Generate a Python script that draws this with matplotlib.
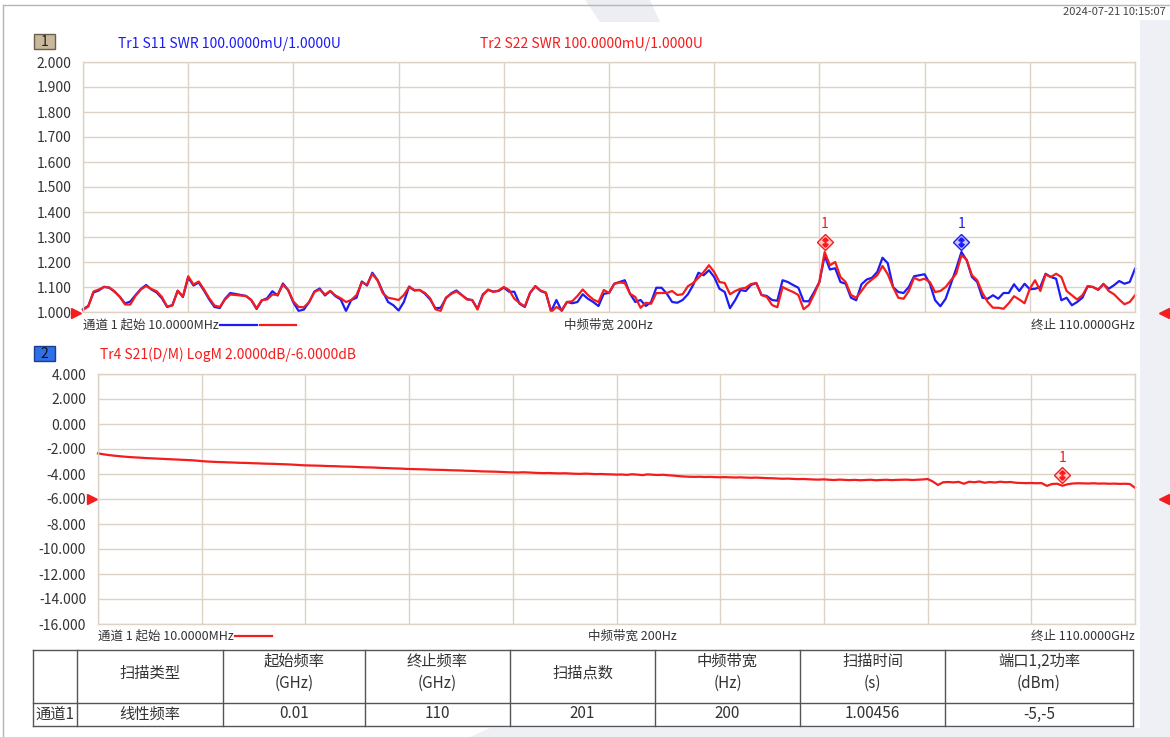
import numpy as np
import matplotlib
matplotlib.use('Agg')
import matplotlib.pyplot as plt
import matplotlib.transforms as mtransforms
from matplotlib.patches import Rectangle, Polygon

plt.rcParams['font.family'] = ['Noto Sans CJK SC', 'DejaVu Sans']

# ---------------- data ----------------
start_ghz = 0.01
stop_ghz = 110.0
n_points = 201

s11_swr = [
    1.011, 1.024, 1.078, 1.086, 1.101, 1.097, 1.081, 1.061, 1.034, 1.042,
    1.068, 1.092, 1.108, 1.090, 1.078, 1.055, 1.020, 1.028, 1.085, 1.060,
    1.138, 1.106, 1.118, 1.086, 1.050, 1.020, 1.016, 1.053, 1.076, 1.072,
    1.068, 1.064, 1.047, 1.012, 1.046, 1.055, 1.083, 1.066, 1.114, 1.088,
    1.038, 1.004, 1.010, 1.040, 1.082, 1.094, 1.066, 1.084, 1.063, 1.050,
    1.004, 1.048, 1.057, 1.122, 1.106, 1.157, 1.128, 1.081, 1.040, 1.027,
    1.006, 1.040, 1.102, 1.086, 1.088, 1.073, 1.050, 1.015, 1.017, 1.055,
    1.075, 1.086, 1.068, 1.052, 1.047, 1.013, 1.070, 1.088, 1.082, 1.084,
    1.098, 1.081, 1.081, 1.033, 1.020, 1.076, 1.104, 1.084, 1.076, 1.003,
    1.048, 1.004, 1.040, 1.035, 1.040, 1.071, 1.053, 1.040, 1.024, 1.073,
    1.076, 1.113, 1.120, 1.127, 1.073, 1.040, 1.048, 1.024, 1.040, 1.097,
    1.097, 1.073, 1.040, 1.037, 1.048, 1.071, 1.108, 1.157, 1.147, 1.167,
    1.140, 1.093, 1.080, 1.015, 1.048, 1.088, 1.084, 1.108, 1.116, 1.068,
    1.064, 1.048, 1.045, 1.127, 1.120, 1.108, 1.097, 1.043, 1.043, 1.080,
    1.120, 1.225, 1.170, 1.175, 1.120, 1.113, 1.057, 1.047, 1.111, 1.130,
    1.137, 1.160, 1.217, 1.195, 1.100, 1.080, 1.076, 1.100, 1.143, 1.147,
    1.151, 1.113, 1.047, 1.023, 1.053, 1.113, 1.173, 1.240, 1.207, 1.140,
    1.120, 1.057, 1.053, 1.067, 1.053, 1.076, 1.076, 1.111, 1.084, 1.113,
    1.091, 1.093, 1.100, 1.153, 1.140, 1.133, 1.047, 1.057, 1.027, 1.040,
    1.057, 1.103, 1.100, 1.089, 1.111, 1.093, 1.107, 1.124, 1.113, 1.120,
    1.173,
]

s22_swr = [
    1.008, 1.022, 1.082, 1.090, 1.100, 1.098, 1.083, 1.060, 1.030, 1.030,
    1.065, 1.090, 1.104, 1.092, 1.083, 1.060, 1.022, 1.026, 1.085, 1.062,
    1.143, 1.110, 1.122, 1.090, 1.055, 1.026, 1.020, 1.050, 1.070, 1.068,
    1.066, 1.064, 1.048, 1.015, 1.048, 1.050, 1.070, 1.068, 1.110, 1.088,
    1.042, 1.020, 1.019, 1.040, 1.080, 1.090, 1.070, 1.084, 1.066, 1.055,
    1.040, 1.048, 1.068, 1.118, 1.110, 1.152, 1.126, 1.075, 1.057, 1.053,
    1.048, 1.068, 1.100, 1.088, 1.088, 1.076, 1.055, 1.011, 1.004, 1.058,
    1.072, 1.082, 1.068, 1.050, 1.048, 1.010, 1.066, 1.090, 1.080, 1.086,
    1.100, 1.088, 1.053, 1.036, 1.022, 1.078, 1.102, 1.086, 1.078, 1.000,
    1.020, 1.007, 1.040, 1.043, 1.064, 1.090, 1.068, 1.050, 1.040, 1.088,
    1.076, 1.113, 1.118, 1.116, 1.073, 1.060, 1.017, 1.037, 1.033, 1.076,
    1.076, 1.076, 1.084, 1.068, 1.071, 1.103, 1.116, 1.137, 1.160, 1.187,
    1.160, 1.120, 1.116, 1.071, 1.084, 1.093, 1.097, 1.112, 1.116, 1.068,
    1.060, 1.028, 1.019, 1.100, 1.089, 1.080, 1.068, 1.011, 1.028, 1.071,
    1.120, 1.240, 1.187, 1.200, 1.140, 1.120, 1.068, 1.057, 1.084, 1.113,
    1.130, 1.147, 1.184, 1.151, 1.100, 1.057, 1.053, 1.084, 1.137, 1.127,
    1.133, 1.120, 1.080, 1.084, 1.100, 1.127, 1.153, 1.227, 1.209, 1.147,
    1.127, 1.076, 1.040, 1.017, 1.017, 1.013, 1.035, 1.063, 1.050, 1.035,
    1.093, 1.127, 1.084, 1.150, 1.140, 1.153, 1.140, 1.084, 1.067, 1.050,
    1.067, 1.103, 1.100, 1.089, 1.113, 1.084, 1.071, 1.050, 1.031, 1.040,
    1.067,
]

s21_db = [
    -2.35, -2.42, -2.48, -2.53, -2.57, -2.61, -2.64, -2.67, -2.69, -2.72,
    -2.74, -2.76, -2.78, -2.80, -2.82, -2.84, -2.86, -2.88, -2.90, -2.93,
    -2.97, -3.00, -3.02, -3.04, -3.05, -3.07, -3.08, -3.10, -3.11, -3.12,
    -3.14, -3.15, -3.17, -3.18, -3.19, -3.21, -3.22, -3.24, -3.26, -3.29,
    -3.31, -3.32, -3.33, -3.34, -3.36, -3.37, -3.38, -3.40, -3.41, -3.42,
    -3.44, -3.46, -3.47, -3.48, -3.50, -3.52, -3.53, -3.55, -3.56, -3.58,
    -3.60, -3.61, -3.62, -3.63, -3.65, -3.66, -3.67, -3.68, -3.70, -3.71,
    -3.72, -3.74, -3.75, -3.77, -3.79, -3.80, -3.81, -3.82, -3.84, -3.86,
    -3.87, -3.88, -3.86, -3.88, -3.90, -3.92, -3.93, -3.92, -3.94, -3.95,
    -3.94, -3.96, -3.98, -3.99, -3.97, -3.99, -4.01, -4.00, -4.02, -4.03,
    -4.05, -4.04, -4.07, -4.02, -4.05, -4.09, -4.03, -4.06, -4.08, -4.06,
    -4.10, -4.13, -4.17, -4.20, -4.22, -4.23, -4.22, -4.24, -4.23, -4.25,
    -4.26, -4.25, -4.27, -4.28, -4.27, -4.29, -4.30, -4.29, -4.31, -4.33,
    -4.34, -4.36, -4.38, -4.37, -4.39, -4.41, -4.40, -4.42, -4.44, -4.45,
    -4.43, -4.46, -4.48, -4.45, -4.47, -4.49, -4.47, -4.50, -4.48, -4.46,
    -4.50, -4.48, -4.46, -4.49, -4.47, -4.46, -4.45, -4.48, -4.46, -4.44,
    -4.40, -4.60, -4.88, -4.66, -4.64, -4.67, -4.63, -4.78, -4.62, -4.66,
    -4.60, -4.70, -4.64, -4.68, -4.62, -4.66, -4.64, -4.70, -4.72, -4.73,
    -4.72, -4.74, -4.73, -4.95, -4.80, -4.78, -4.94, -4.82, -4.76, -4.74,
    -4.75, -4.76, -4.74, -4.77, -4.76, -4.78, -4.77, -4.79, -4.78, -4.80,
    -5.10,
]

swr_ticks = [1.0, 1.1, 1.2, 1.3, 1.4, 1.5, 1.6, 1.7, 1.8, 1.9, 2.0]
db_ticks = [-16, -14, -12, -10, -8, -6, -4, -2, 0, 2, 4]
n_xdiv = 10

mk_s11_freq, mk_s11_val = 91.852, 1.24
mk_s22_freq, mk_s22_val = 77.553, 1.24
mk_s21_freq, mk_s21_val = 102.301, -4.94

table_header = ["", "扫描类型", "起始频率\n(GHz)", "终止频率\n(GHz)", "扫描点数",
                "中频带宽\n(Hz)", "扫描时间\n(s)", "端口1,2功率\n(dBm)"]
table_row = ["通道1", "线性频率", "0.01", "110", "201", "200", "1.00456", "-5,-5"]

freq = np.linspace(start_ghz, stop_ghz, n_points)

BLUE = '#1c1cf5'
RED = '#f51c1c'
GRID = '#dcd3c4'
TXT = '#333333'

W, H = 1170, 737
fig = plt.figure(figsize=(W / 100, H / 100), dpi=100)
fig.patch.set_facecolor('white')

# overlay in pixel coords
ov = fig.add_axes([0, 0, 1, 1], zorder=0)
ov.set_xlim(0, W)
ov.set_ylim(H, 0)
ov.axis('off')

# background decorations
ov.add_patch(Polygon([[1140, 20], [1170, 20], [1170, 737], [1140, 737]],
                     closed=True, facecolor='#eef0f5', edgecolor='none'))
ov.add_patch(Polygon([[585, 0], [650, 0], [660, 22], [600, 22]],
                     closed=True, facecolor='#eceef3', edgecolor='none'))
ov.add_patch(Polygon([[470, 737], [1170, 737], [1170, 728], [490, 728]],
                     closed=True, facecolor='#eef0f5', edgecolor='none'))
ov.plot([3, 1170], [5, 5], color='#b5b5b5', lw=1)
ov.plot([3, 3], [5, 737], color='#b5b5b5', lw=1)
ov.text(1166, 12, "2024-07-21 10:15:07", ha='right', va='center', fontsize=8, color='#444444')


def make_axes(left_px, top_px, right_px, bottom_px):
    ax = fig.add_axes([left_px / W, 1 - bottom_px / H, (right_px - left_px) / W,
                       (bottom_px - top_px) / H], zorder=2)
    ax.set_facecolor('white')
    for s in ax.spines.values():
        s.set_color(GRID)
        s.set_linewidth(1)
    ax.grid(True, color=GRID, lw=1)
    ax.set_axisbelow(True)
    ax.tick_params(length=0, labelsize=10, colors=TXT, pad=8.5)
    return ax


def draw_marker(ax, x, y, color, light, dy_pts):
    off = ax.transData + mtransforms.ScaledTranslation(0, dy_pts / 72, fig.dpi_scale_trans)
    ax.plot([x], [y], marker='D', ms=8.5, mfc=light, mec=color, mew=1,
            transform=off, clip_on=False, zorder=5)
    ax.plot([x], [y], marker='$\u2195$', ms=6.5, color=color, mec=color,
            transform=off, clip_on=False, zorder=6)
    ax.annotate('1', xy=(x, y), xytext=(0, 20), textcoords='offset points',
                ha='center', va='center', color=color, fontsize=10)


# ---------------- top chart ----------------
ax1 = make_axes(83, 62, 1135, 312)
ax1.set_xlim(start_ghz, stop_ghz)
ax1.set_ylim(swr_ticks[0], swr_ticks[-1])
ax1.set_xticks(np.linspace(start_ghz, stop_ghz, n_xdiv + 1))
ax1.set_xticklabels([])
ax1.set_yticks(swr_ticks)
ax1.set_yticklabels([f"{v:.3f}" for v in swr_ticks])
ax1.plot(freq, s11_swr, color=BLUE, lw=1.6, clip_on=False)
ax1.plot(freq, s22_swr, color=RED, lw=1.6, clip_on=False)

draw_marker(ax1, mk_s22_freq, mk_s22_val, RED, '#ffc9c9', 7)
draw_marker(ax1, mk_s11_freq, mk_s11_val, BLUE, '#c9c9ff', 7)

# marker readouts
ov.text(963, 87, f"1  : {mk_s11_freq:.3f}GHz", ha='right', va='center', color=BLUE, fontsize=10, zorder=5)
ov.text(1013, 87, f"{mk_s11_val:.2f}", ha='right', va='center', color=BLUE, fontsize=10, zorder=5)
ov.text(963, 106, f"> 1  : {mk_s22_freq:.3f}GHz", ha='right', va='center', color=RED, fontsize=10, zorder=5)
ov.text(1013, 106, f"{mk_s22_val:.2f}", ha='right', va='center', color=RED, fontsize=10, zorder=5)

# headers
ov.add_patch(Rectangle((34, 34), 21, 15, facecolor='#c9b99c', edgecolor='#6b5e4a', lw=1))
ov.text(44.5, 41.5, "1", ha='center', va='center', fontsize=10, color='#222222')
ov.text(118, 44, "Tr1 S11 SWR 100.0000mU/1.0000U", ha='left', va='center', color=BLUE, fontsize=10)
ov.text(480, 44, "Tr2 S22 SWR 100.0000mU/1.0000U", ha='left', va='center', color=RED, fontsize=10)

ov.text(83, 325, "通道 1 起始 10.0000MHz", ha='left', va='center', fontsize=9, color=TXT)
ov.plot([220, 257], [325, 325], color=BLUE, lw=1.6)
ov.plot([260, 296], [325, 325], color=RED, lw=1.6)
ov.text(608, 325, "中频带宽 200Hz", ha='center', va='center', fontsize=9, color=TXT)
ov.text(1135, 325, "终止 110.0000GHz", ha='right', va='center', fontsize=9, color=TXT)

# reference triangles
ov.plot([76], [313], marker='>', ms=7, color=RED, zorder=5)
ov.plot([1164], [313], marker='<', ms=7, color=RED, zorder=5)

# ---------------- bottom chart ----------------
ax2 = make_axes(98, 374, 1135, 624)
ax2.set_xlim(start_ghz, stop_ghz)
ax2.set_ylim(db_ticks[0], db_ticks[-1])
ax2.set_xticks(np.linspace(start_ghz, stop_ghz, n_xdiv + 1))
ax2.set_xticklabels([])
ax2.set_yticks(db_ticks)
ax2.set_yticklabels([f"{v:.3f}" for v in db_ticks])
ax2.plot(freq, s21_db, color=RED, lw=1.6, clip_on=False)
draw_marker(ax2, mk_s21_freq, mk_s21_val, RED, '#ffc9c9', 8)

ov.text(972, 400, f"> 1  : {mk_s21_freq:.3f}GHz", ha='right', va='center', color=RED, fontsize=10, zorder=5)
ov.text(1038, 400, f"{mk_s21_val:.2f}dB", ha='right', va='center', color=RED, fontsize=10, zorder=5)

ov.add_patch(Rectangle((34, 346), 21, 15, facecolor='#2f6fe8', edgecolor='#1b3f8a', lw=1))
ov.text(44.5, 353.5, "2", ha='center', va='center', fontsize=10, color='#111111')
ov.text(100, 355, "Tr4 S21(D/M) LogM 2.0000dB/-6.0000dB", ha='left', va='center', color=RED, fontsize=10)

ov.text(98, 636, "通道 1 起始 10.0000MHz", ha='left', va='center', fontsize=9, color=TXT)
ov.plot([235, 272], [636, 636], color=RED, lw=1.6)
ov.text(632, 636, "中频带宽 200Hz", ha='center', va='center', fontsize=9, color=TXT)
ov.text(1135, 636, "终止 110.0000GHz", ha='right', va='center', fontsize=9, color=TXT)

ov.plot([92], [499], marker='>', ms=7, color=RED, zorder=5)
ov.plot([1164], [499], marker='<', ms=7, color=RED, zorder=5)

# ---------------- table ----------------
col_edges = [33, 77, 223, 365, 510, 655, 800, 945, 1133]
row_edges = [650, 703, 726]
for xe in col_edges:
    ov.plot([xe, xe], [row_edges[0], row_edges[-1]], color='#555555', lw=1, zorder=3)
for ye in row_edges:
    ov.plot([col_edges[0], col_edges[-1]], [ye, ye], color='#555555', lw=1, zorder=3)

for j, (h, v) in enumerate(zip(table_header, table_row)):
    cx = (col_edges[j] + col_edges[j + 1]) / 2
    if '\n' in h:
        l1, l2 = h.split('\n')
        ov.text(cx, 661, l1, ha='center', va='center', fontsize=11, color=TXT)
        ov.text(cx, 683, l2, ha='center', va='center', fontsize=11, color=TXT)
    elif h:
        ov.text(cx, 673, h, ha='center', va='center', fontsize=11, color=TXT)
    if j == 0:
        ov.text(col_edges[0] + 2, 714, v, ha='left', va='center', fontsize=11, color=TXT)
    else:
        ov.text(cx, 714, v, ha='center', va='center', fontsize=11, color=TXT)

fig.savefig('out.png', dpi=100)
